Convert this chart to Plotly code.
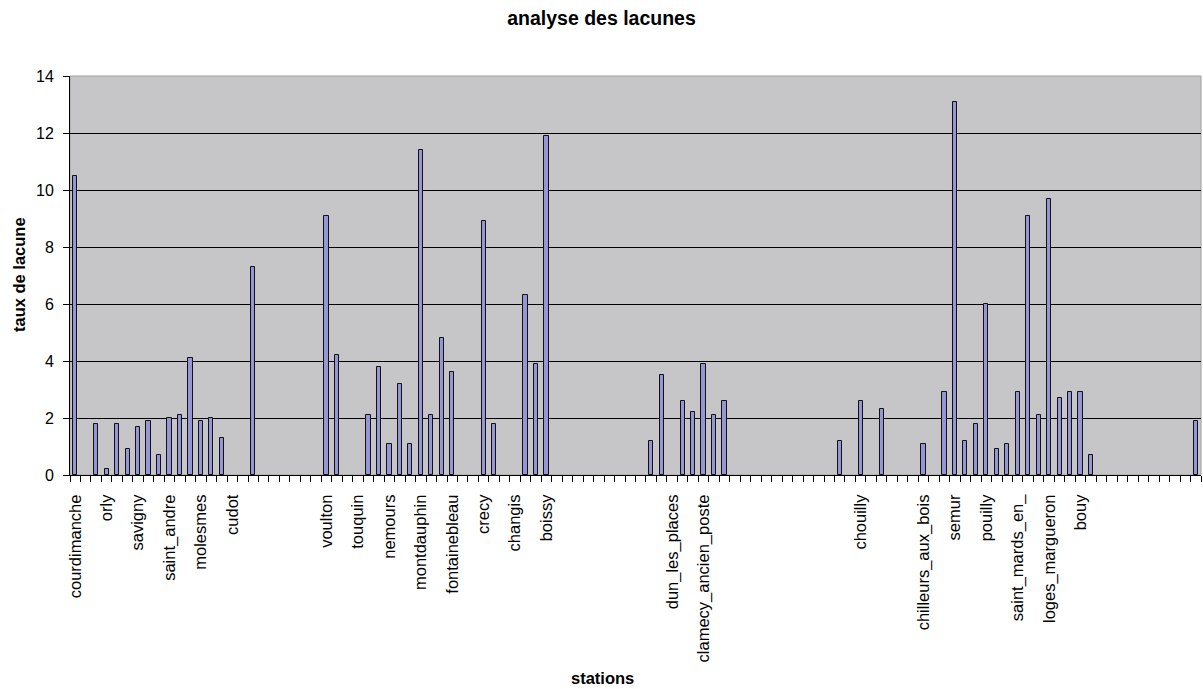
import plotly.graph_objects as go

# taux de lacune per station (108 stations, in order)
values = [
    10.5, 0, 1.8, 0.2, 1.8, 0.9, 1.7, 1.9, 0.7, 2.0,
    2.1, 4.1, 1.9, 2.0, 1.3, 0, 0, 7.3, 0, 0,
    0, 0, 0, 0, 9.1, 4.2, 0, 0, 2.1, 3.8,
    1.1, 3.2, 1.1, 11.4, 2.1, 4.8, 3.6, 0, 0, 8.9,
    1.8, 0, 0, 6.3, 3.9, 11.9, 0, 0, 0, 0,
    0, 0, 0, 0, 0, 1.2, 3.5, 0, 2.6, 2.2,
    3.9, 2.1, 2.6, 0, 0, 0, 0, 0, 0, 0,
    0, 0, 0, 1.2, 0, 2.6, 0, 2.3, 0, 0,
    0, 1.1, 0, 2.9, 13.1, 1.2, 1.8, 6.0, 0.9, 1.1,
    2.9, 9.1, 2.1, 9.7, 2.7, 2.9, 2.9, 0.7, 0, 0,
    0, 0, 0, 0, 0, 0, 0, 1.9,
]

# labels shown for every third station (others in the original have no visible name)
tick_labels = [
    "courdimanche", "orly", "savigny", "saint_andre", "molesmes", "cudot",
    "", "", "voulton", "touquin", "nemours", "montdauphin",
    "fontainebleau", "crecy", "changis", "boissy", "", "",
    "", "dun_les_places", "clamecy_ancien_poste", "", "", "",
    "", "chouilly", "", "chilleurs_aux_bois", "semur", "pouilly",
    "saint_mards_en_", "loges_margueron", "bouy", "", "", "",
]
label_step = 3

y_ticks = [0, 2, 4, 6, 8, 10, 12, 14]

n = len(values)
x_idx = list(range(n))
tick_positions = x_idx[::label_step]
# zero values are not drawn as bars (as in the original chart)
y_plot = [v if v else None for v in values]

FONT = "Liberation Sans, Arial, sans-serif"

fig = go.Figure()
fig.add_trace(go.Bar(
    x=x_idx,
    y=y_plot,
    width=0.4,
    marker=dict(color="#9696D6", line=dict(color="#111111", width=1)),
    showlegend=False,
))

W, H = 1203, 689
ml, mr, mt, mb = 70, 2, 76, 214
ph = H - mt - mb

fig.update_layout(
    width=W, height=H,
    margin=dict(l=ml, r=mr, t=mt, b=mb, pad=0, autoexpand=False),
    paper_bgcolor="white",
    plot_bgcolor="#C6C6C8",
    font=dict(family=FONT, color="#000000", size=16),
    bargap=0,
    title=dict(
        text="<b>analyse des lacunes</b>",
        font=dict(family=FONT, size=19.5, color="#000000"),
        x=0.5, xref="container", xanchor="center",
        y=1 - 18 / H, yref="container", yanchor="middle",
    ),
    xaxis=dict(
        range=[-0.5, n - 0.5],
        automargin=False,
        tickmode="array",
        tickvals=tick_positions,
        ticktext=tick_labels,
        tickangle=-90,
        ticks="",
        tickfont=dict(family=FONT, size=16.5, color="#000000"),
        ticklabelstandoff=12,
        showgrid=False,
        showline=True, linecolor="#000000", linewidth=1,
        zeroline=False,
        minor=dict(ticks="outside", tick0=-0.5, dtick=1, ticklen=6,
                   tickcolor="#000000", tickwidth=1, showgrid=False),
        fixedrange=True,
    ),
    yaxis=dict(
        range=[0, 14],
        automargin=False,
        tickmode="array",
        tickvals=y_ticks,
        ticks="outside", ticklen=6, tickcolor="#000000", tickwidth=1,
        tickfont=dict(family=FONT, size=16, color="#000000"),
        ticklabelstandoff=6,
        showgrid=True, gridcolor="#000000", gridwidth=1,
        showline=True, linecolor="#000000", linewidth=1,
        zeroline=False,
        fixedrange=True,
    ),
    shapes=[dict(
        type="rect", xref="paper", yref="paper", x0=0, x1=1, y0=0, y1=1,
        line=dict(color="#A0A0A0", width=1), layer="below",
    )],
    annotations=[
        dict(
            text="<b>taux de lacune</b>",
            xref="paper", yref="paper",
            x=(19 - ml) / (W - ml - mr), y=(H - mb - 275) / ph,
            xanchor="center", yanchor="middle",
            textangle=-90, showarrow=False,
            font=dict(family=FONT, size=16.5, color="#000000"),
        ),
        dict(
            text="<b>stations</b>",
            xref="paper", yref="paper",
            x=(602 - ml) / (W - ml - mr), y=-(678 - (H - mb)) / ph,
            xanchor="center", yanchor="middle",
            showarrow=False,
            font=dict(family=FONT, size=16.5, color="#000000"),
        ),
    ],
)

fig.write_html(
    "out.html",
    config={"displayModeBar": False},
    post_script="document.body.style.margin='0px';document.body.style.overflow='hidden';",
)
